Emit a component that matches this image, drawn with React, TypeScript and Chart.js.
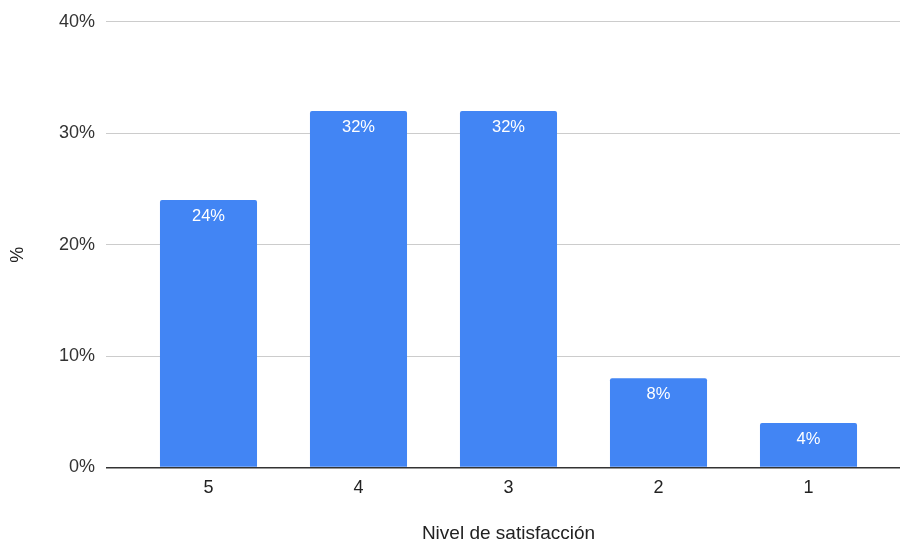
import React, { useEffect, useRef } from "react";
import { Chart, registerables } from "chart.js";

Chart.register(...registerables);

// Satisfaction levels, from highest to lowest
const categories = ["5", "4", "3", "2", "1"];
// Share of responses per level (percent)
const shares = [24, 32, 32, 8, 4];
// Y axis tick values (percent)
const yTicks = [0, 10, 20, 30, 40];

const X_TITLE = "Nivel de satisfacción";
const Y_TITLE = "%";

const FONT = "'Liberation Sans', Arial, sans-serif";
const BAR_COLOR = "#4285F4";
const TEXT_COLOR = "#333333";
const TITLE_COLOR = "#222222";

// Writes each bar's value in white just inside its top edge.
const valueLabels = {
  id: "valueLabels",
  afterDatasetsDraw(chart: any) {
    const { ctx } = chart;
    const meta = chart.getDatasetMeta(0);
    ctx.save();
    ctx.font = `16.5px ${FONT}`;
    ctx.fillStyle = "#ffffff";
    ctx.textAlign = "center";
    ctx.textBaseline = "middle";
    meta.data.forEach((bar: any, i: number) => {
      ctx.fillText(`${shares[i]}%`, bar.x, bar.y + 16.5);
    });
    ctx.restore();
  },
};

// Axis titles: the horizontal one is centred under the bar group,
// the vertical one sits at the far left, rotated.
const axisTitles = {
  id: "axisTitles",
  afterDraw(chart: any) {
    const { ctx, chartArea } = chart;
    const xs = chart.scales.x;
    const first = xs.getPixelForValue(0);
    const last = xs.getPixelForValue(categories.length - 1);
    ctx.save();
    ctx.font = `19px ${FONT}`;
    ctx.fillStyle = TITLE_COLOR;
    ctx.textAlign = "center";
    ctx.textBaseline = "middle";
    ctx.fillText(X_TITLE, (first + last) / 2, chart.height - 12);
    ctx.font = `18px ${FONT}`;
    ctx.translate(18, (chartArea.top + chartArea.bottom) / 2 + 10);
    ctx.rotate(-Math.PI / 2);
    ctx.fillText(Y_TITLE, 0, 0);
    ctx.restore();
  },
};

export default function App() {
  const canvasRef = useRef<HTMLCanvasElement | null>(null);

  useEffect(() => {
    if (!canvasRef.current) return;
    const chart = new Chart(canvasRef.current, {
      type: "bar",
      data: {
        datasets: [
          {
            data: shares.map((v, i) => ({ x: i, y: v })),
            backgroundColor: BAR_COLOR,
            borderRadius: 2,
            borderSkipped: "bottom",
            categoryPercentage: 1,
            barPercentage: 0.647,
          },
        ],
      },
      options: {
        animation: false,
        responsive: false,
        maintainAspectRatio: false,
        layout: { padding: { top: 21, right: 0, bottom: 0, left: 0 } },
        plugins: {
          legend: { display: false },
          tooltip: { enabled: false },
        },
        scales: {
          x: {
            type: "linear",
            offset: false,
            min: -0.6833,
            max: 4.61,
            afterBuildTicks(scale: any) {
              scale.ticks = categories.map((_, i) => ({ value: i }));
            },
            afterFit(scale: any) {
              scale.height = 78.5;
            },
            grid: { display: false, drawTicks: false },
            border: { display: false },
            ticks: {
              padding: 10,
              color: TITLE_COLOR,
              font: { family: FONT, size: 18 },
              callback: (v: any) => categories[Number(v)] ?? "",
            },
          },
          y: {
            min: 0,
            max: 40,
            afterBuildTicks(scale: any) {
              scale.ticks = yTicks.map((v) => ({ value: v }));
            },
            afterFit(scale: any) {
              scale.width = 106;
            },
            grid: {
              drawTicks: false,
              color: (c: any) => (c.tick && c.tick.value === 0 ? "#333333" : "#cccccc"),
              lineWidth: (c: any) => (c.tick && c.tick.value === 0 ? 1.5 : 1),
            },
            border: { display: false },
            ticks: {
              padding: 11,
              color: TEXT_COLOR,
              font: { family: FONT, size: 18 },
              callback: (v: any) => `${v}%`,
            },
          },
        },
      },
      plugins: [valueLabels, axisTitles],
    });
    return () => chart.destroy();
  }, []);

  return (
    <div style={{ position: "fixed", left: 0, top: 0, width: 900, height: 546, background: "#ffffff" }}>
      <canvas ref={canvasRef} width={900} height={546} style={{ display: "block" }} />
    </div>
  );
}
